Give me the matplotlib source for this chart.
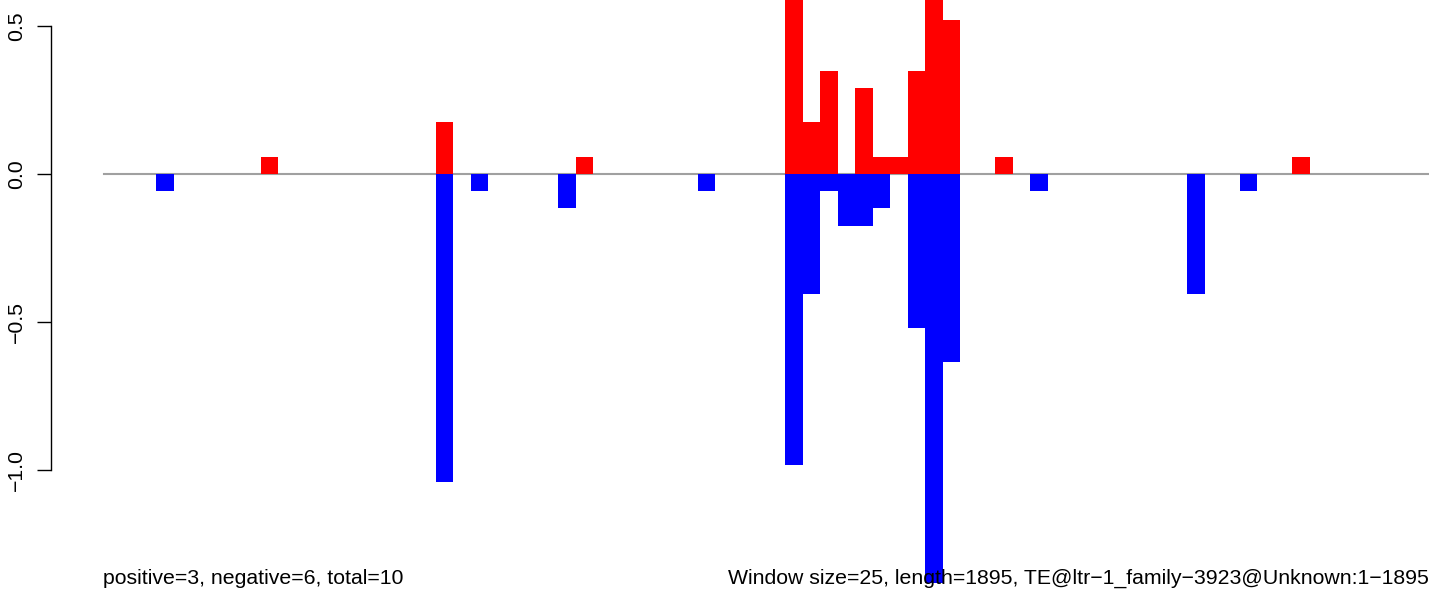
import matplotlib
matplotlib.use("Agg")
import matplotlib.pyplot as plt

plt.rcParams['font.family'] = ['Liberation Sans', 'DejaVu Sans']

# 76 windows of size 25 over a length of 1895
n_bins = 76

# positive scores (bin index, value)
pos_bins = [9, 19, 27, 39, 40, 41, 43, 44, 45, 46, 47, 48, 51, 68]
pos_vals = [0.058, 0.174, 0.058, 0.75, 0.174, 0.347, 0.289, 0.058, 0.058,
            0.347, 0.81, 0.52, 0.058, 0.058]

# negative scores (bin index, value)
neg_bins = [3, 19, 21, 26, 34, 39, 40, 41, 42, 43, 44, 46, 47, 48, 53, 62, 65]
neg_vals = [-0.058, -1.04, -0.058, -0.116, -0.058, -0.983, -0.405, -0.058,
            -0.174, -0.174, -0.116, -0.52, -1.5, -0.636, -0.058, -0.405, -0.058]

yticks = [-1.0, -0.5, 0.0, 0.5]
ytick_labels = ["\u22121.0", "\u22120.5", "0.0", "0.5"]

left_note = "positive=3, negative=6, total=10"
right_note = "Window size=25, length=1895, TE@ltr\u22121_family\u22123923@Unknown:1\u22121895"

W, H = 1429, 590
fig = plt.figure(figsize=(W / 100, H / 100), dpi=100)
ax = fig.add_axes([51 / W, 7 / H, (W - 51) / W, 583 / H])

ax.plot([0, n_bins], [0, 0], color="#A0A0A0", lw=1.5, zorder=1)
ax.bar(pos_bins, pos_vals, width=1.0, align="edge", color="#FF0000", lw=0, zorder=2)
ax.bar(neg_bins, neg_vals, width=1.0, align="edge", color="#0000FF", lw=0, zorder=2)

ax.set_xlim(-3.01, 75.82)
ax.set_ylim(-1.380, 0.587)

for s in ["top", "right", "bottom"]:
    ax.spines[s].set_visible(False)
ax.spines["left"].set_bounds(-1.0, 0.5)
ax.spines["left"].set_linewidth(1.0)
ax.set_xticks([])
ax.set_yticks(yticks)
ax.set_yticklabels(ytick_labels, rotation=90, va="center", fontsize=15.3)
ax.tick_params(axis="y", length=10, width=1.0, pad=8)

fig.text(103 / W, 1 - 584 / H, left_note, ha="left", va="baseline", fontsize=15.3, zorder=5)
fig.text(1429 / W, 1 - 584 / H, right_note, ha="right", va="baseline", fontsize=15.3, zorder=5)

fig.savefig("out.png", dpi=100)
